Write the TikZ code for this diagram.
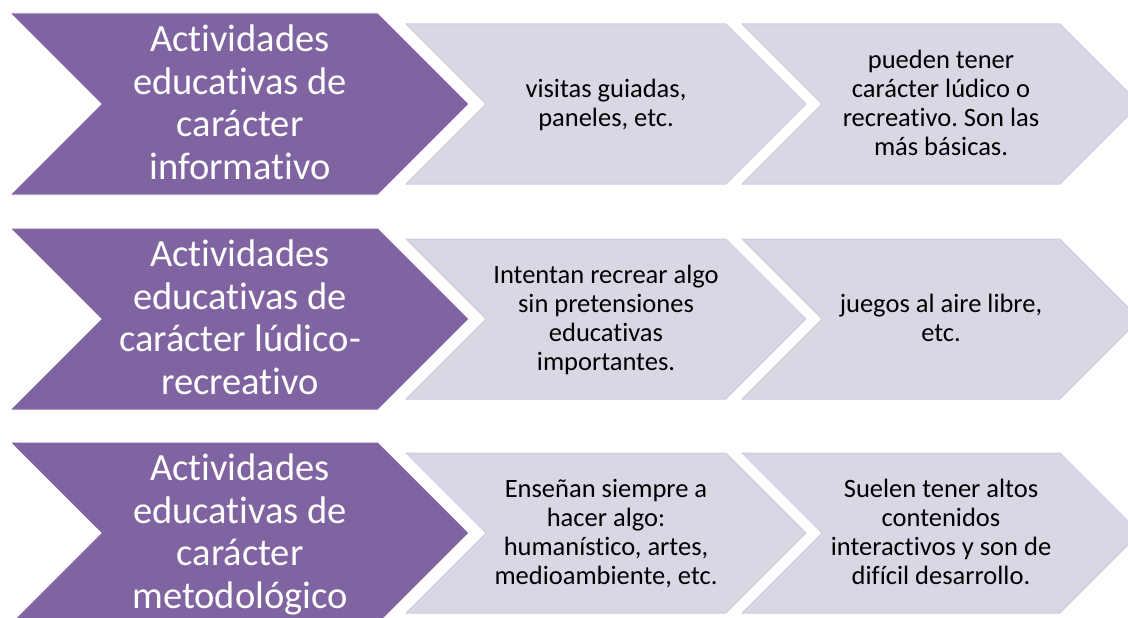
\documentclass[tikz,border=0pt]{standalone}
\usepackage{fontspec}
\setmainfont{Carlito}[Ligatures=NoCommon]
\frenchspacing
\definecolor{chevpurple}{RGB}{128,100,162}
\definecolor{chevlight}{RGB}{218,214,228}
\definecolor{chevedge}{RGB}{208,201,223}
\begin{document}
\frenchspacing
\begin{tikzpicture}[x=1pt,y=-1pt,
  darkchev/.style={fill=chevpurple, draw=white, line width=1pt, line join=miter},
  palechev/.style={fill=chevlight, draw=chevedge, line width=1pt, line join=miter},
  bigtxt/.style={text=white, align=center, inner sep=0pt, font=\fontsize{38.5}{42.5}\selectfont},
  smalltxt/.style={text=black, align=center, inner sep=0pt, font=\fontsize{26.5}{29}\selectfont}]
\useasboundingbox (0,0) rectangle (1128,618);
\clip (0,0) rectangle (1128,618);
\foreach \yc in {104,319,533} {
  \path[darkchev] (10,{\yc-91}) -- (378,{\yc-91}) -- (469,\yc) -- (378,{\yc+91}) -- (10,{\yc+91}) -- (101,\yc) -- cycle;
  \path[palechev] (406,{\yc-80}) -- (726,{\yc-80}) -- (806,\yc) -- (726,{\yc+80}) -- (406,{\yc+80}) -- (486,\yc) -- cycle;
  \path[palechev] (742,{\yc-80}) -- (1060,{\yc-80}) -- (1140,\yc) -- (1060,{\yc+80}) -- (742,{\yc+80}) -- (822,\yc) -- cycle;
}
\node[bigtxt] (a1) at (240,107) {\strut Actividades\\educativas de\\carácter\\informativo\strut};
\node[bigtxt] (a2) at (240,322) {\strut Actividades\\educativas de\\carácter lúdico-\\recreativo\strut};
\node[bigtxt] (a3) at (240,536) {\strut Actividades\\educativas de\\carácter\\metodológico\strut};
\node[smalltxt] (b1) at (606,106) {\strut visitas guiadas,\\paneles, etc.\strut};
\node[smalltxt] (c1) at (941,106) {\strut pueden tener\\carácter lúdico o\\recreativo. Son las\\más básicas.\strut};
\node[smalltxt] (b2) at (606,321) {\strut Intentan recrear algo\\sin pretensiones\\educativas\\importantes.\strut};
\node[smalltxt] (c2) at (941,321) {\strut juegos al aire libre,\\etc.\strut};
\node[smalltxt] (b3) at (606,535) {\strut Enseñan siempre a\\hacer algo:\\humanístico, artes,\\medioambiente, etc.\strut};
\node[smalltxt] (c3) at (941,535) {\strut Suelen tener altos\\contenidos\\interactivos y son de\\difícil desarrollo.\strut};
\end{tikzpicture}
\end{document}
